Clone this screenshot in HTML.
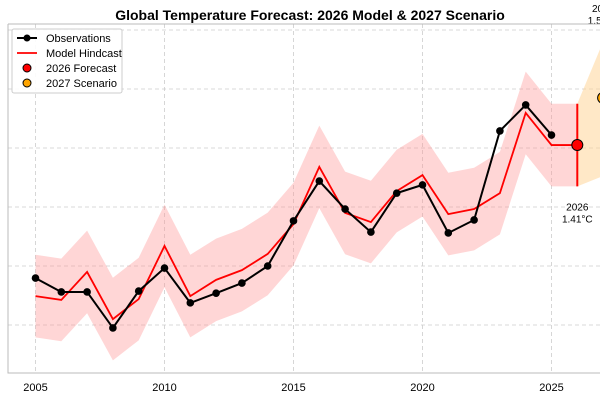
<!DOCTYPE html>
<html><head><meta charset="utf-8"><style>
body{margin:0;background:#fff;}
svg{display:block;font-family:"Liberation Sans",sans-serif;}
</style></head><body>
<svg id="c" width="600" height="400"></svg>
<script>
const years=[2005,2006,2007,2008,2009,2010,2011,2012,2013,2014,2015,2016,2017,2018,2019,2020,2021,2022,2023,2024,2025];
const obs=[0.959,0.912,0.912,0.79,0.915,0.993,0.875,0.908,0.942,1.0,1.153,1.288,1.193,1.115,1.247,1.275,1.112,1.156,1.458,1.546,1.444];
const modelYears=[2005,2006,2007,2008,2009,2010,2011,2012,2013,2014,2015,2016,2017,2018,2019,2020,2021,2022,2023,2024,2025,2026];
const model=[0.898,0.885,0.98,0.82,0.888,1.068,0.898,0.953,0.986,1.041,1.142,1.336,1.18,1.149,1.254,1.308,1.176,1.193,1.247,1.519,1.41,1.41];
const bandHalf=0.14;
const forecastYear=2026, forecastVal=1.41, forecastErr=0.14;
const scenarioYear=2027, scenarioVal=1.57, scenarioHi=1.76, scenarioLo=1.305;
const xTicks=[2005,2010,2015,2020,2025];
const yGrid=[0.8,1.0,1.2,1.4,1.6,1.8];

const NS="http://www.w3.org/2000/svg";
const svg=document.getElementById('c');
const X=y=>35.5+(y-2005)*25.8;
const Y=v=>148-(v-1.4)*295;
function mk(tag,attrs,parent){const e=document.createElementNS(NS,tag);for(const k in attrs)e.setAttribute(k,attrs[k]);(parent||svg).appendChild(e);return e;}

yGrid.forEach(v=>{const l=mk('line',{x1:8,x2:600,y1:Y(v),y2:Y(v),stroke:'#ccc','stroke-dasharray':'4,3','stroke-width':0.8});

});
xTicks.forEach(t=>{const l=mk('line',{x1:X(t),x2:X(t),y1:24,y2:373,stroke:'#ccc','stroke-dasharray':'4,3','stroke-width':0.8});

});

const bandTop=modelYears.map((y,i)=>X(y)+','+Y(model[i]+bandHalf)).join(' ');
const bandBot=modelYears.slice().reverse().map((y,i)=>X(y)+','+Y(model[model.length-1-i]-bandHalf)).join(' ');
const band=mk('polygon',{points:bandTop+' '+bandBot,fill:'#ff9999','fill-opacity':0.4});



const sb=mk('polygon',{points:`${X(forecastYear)},${Y(forecastVal+forecastErr)} ${X(scenarioYear)},${Y(scenarioHi)} ${X(scenarioYear)+30},${Y(scenarioHi+0.1)} ${X(scenarioYear)+30},${Y(scenarioLo)} ${X(scenarioYear)},${Y(scenarioLo)} ${X(forecastYear)},${Y(forecastVal-forecastErr)}`,fill:'#ffd699','fill-opacity':0.55});



const ml=mk('polyline',{points:modelYears.map((y,i)=>X(y)+','+Y(model[i])).join(' '),fill:'none',stroke:'#ff0000','stroke-width':1.8});



const ol=mk('polyline',{points:years.map((y,i)=>X(y)+','+Y(obs[i])).join(' '),fill:'none',stroke:'#000','stroke-width':2});


years.forEach((y,i)=>{const c=mk('circle',{cx:X(y),cy:Y(obs[i]),r:3.8,fill:'#000'});

});

const eb=mk('line',{x1:X(forecastYear),x2:X(forecastYear),y1:Y(forecastVal+forecastErr),y2:Y(forecastVal-forecastErr),stroke:'#ff0000','stroke-width':2});


const fp=mk('circle',{cx:X(forecastYear),cy:Y(forecastVal),r:5.5,fill:'#ff0000',stroke:'#000','stroke-width':1});


const sp=mk('circle',{cx:X(scenarioYear),cy:Y(scenarioVal),r:5.5,fill:'#ffa500',stroke:'#000','stroke-width':1});



const fa=mk('text',{x:X(forecastYear),y:Y(forecastVal-forecastErr)+24,'text-anchor':'middle','font-size':10});


const fa1=mk('tspan',{x:X(forecastYear)},fa);fa1.textContent=forecastYear;
const fa2=mk('tspan',{x:X(forecastYear),dy:12},fa);fa2.textContent=forecastVal.toFixed(2)+'°C';
const sa=mk('text',{x:X(scenarioYear),y:12,'text-anchor':'middle','font-size':10});


const sa1=mk('tspan',{x:X(scenarioYear)},sa);sa1.textContent=scenarioYear;
const sa2=mk('tspan',{x:X(scenarioYear),dy:12},sa);sa2.textContent=scenarioVal.toFixed(2)+'°C';

const sp1=mk('path',{d:'M8,24 L8,373 L600,373 M8,24 L600,24',fill:'none',stroke:'#bbb','stroke-width':1});



xTicks.forEach(t=>{const tx=mk('text',{x:X(t),y:391,'text-anchor':'middle','font-size':11});tx.textContent=t;

});

const ti=mk('text',{x:310,y:20,'text-anchor':'middle','font-size':14,'font-weight':'bold'});
ti.textContent='Global Temperature Forecast: 2026 Model & 2027 Scenario';



const lg=mk('g',{});


mk('rect',{x:12,y:29,width:110,height:64,rx:2,fill:'#fff','fill-opacity':0.9,stroke:'#ccc'},lg);
const ent=[['Observations','obs'],['Model Hindcast','model'],['2026 Forecast','fc'],['2027 Scenario','sc']];
ent.forEach((e,i)=>{const yy=38+i*15;const g=mk('g',{},lg);


if(e[1]=='obs'){mk('line',{x1:17,x2:37,y1:yy,y2:yy,stroke:'#000','stroke-width':2},g);mk('circle',{cx:27,cy:yy,r:3.5,fill:'#000'},g);}
else if(e[1]=='model'){mk('line',{x1:17,x2:37,y1:yy,y2:yy,stroke:'#f00','stroke-width':1.8},g);}
else mk('circle',{cx:27,cy:yy,r:4,fill:e[1]=='fc'?'#f00':'#ffa500',stroke:'#000','stroke-width':1},g);
const t=mk('text',{x:46,y:yy+4,'font-size':11},g);t.textContent=e[0];});
</script>
</body></html>
